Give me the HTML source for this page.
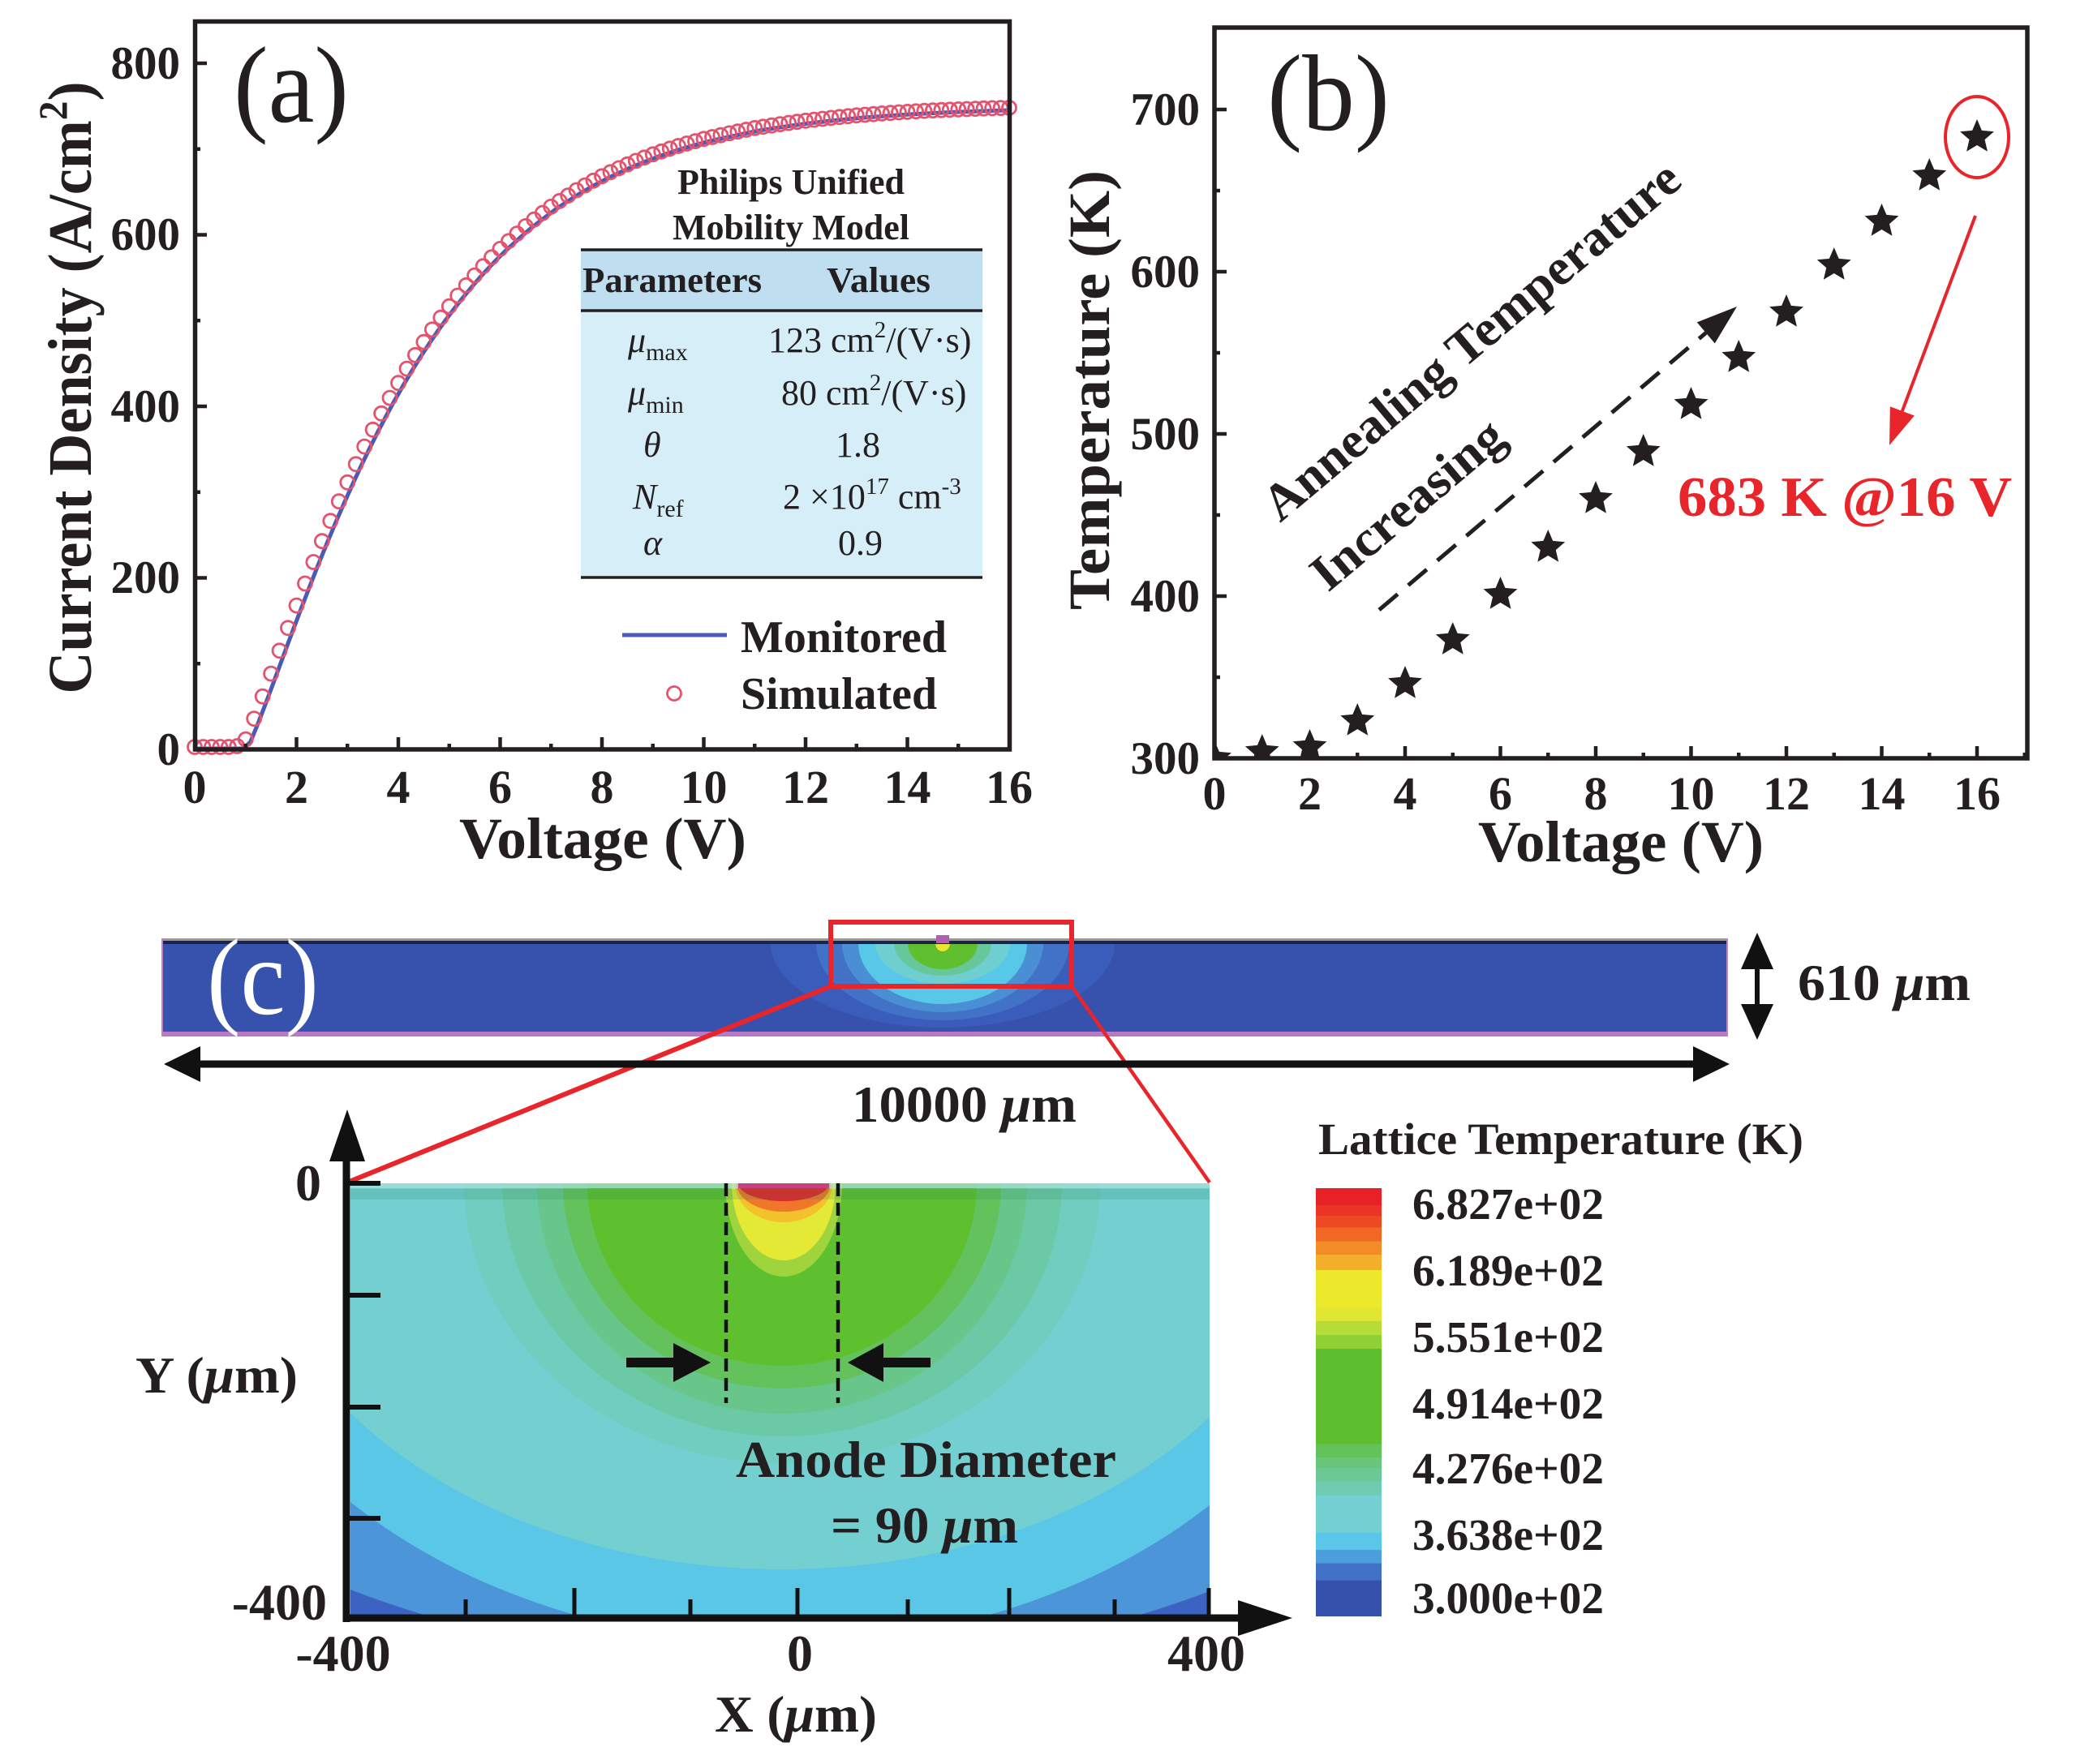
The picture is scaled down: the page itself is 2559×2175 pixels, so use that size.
<!DOCTYPE html>
<html><head><meta charset="utf-8"><style>
html,body{margin:0;padding:0;background:#fff;}
svg{display:block;}
text{font-family:"Liberation Serif","Times New Roman",serif;fill:#231f20;}
.b{font-weight:bold;}
</style></head><body>
<svg width="2559" height="2175" viewBox="0 0 2559 2175" xmlns="http://www.w3.org/2000/svg">
<defs>
<marker id="cm" markerWidth="26" markerHeight="26" refX="13" refY="13" markerUnits="userSpaceOnUse"><circle cx="13" cy="13" r="8.5" fill="none" stroke="#e4536e" stroke-width="2.8"/></marker>
<clipPath id="clipb"><rect x="1497" y="34" width="1002" height="901"/></clipPath>
<clipPath id="clipStrip"><rect x="199" y="1157" width="1931" height="121"/></clipPath>
<clipPath id="clipHeat"><rect x="432" y="1459" width="1059" height="536"/></clipPath>
<linearGradient id="cbar" x1="0" y1="0" x2="0" y2="1">
<stop offset="0" stop-color="#e82128"/><stop offset=".04" stop-color="#e82128"/>
<stop offset=".04" stop-color="#ea3526"/><stop offset=".064" stop-color="#ea3526"/>
<stop offset=".064" stop-color="#ed4a24"/><stop offset=".092" stop-color="#ed4a24"/>
<stop offset=".092" stop-color="#f06824"/><stop offset=".124" stop-color="#f06824"/>
<stop offset=".124" stop-color="#f28c26"/><stop offset=".155" stop-color="#f28c26"/>
<stop offset=".155" stop-color="#f3ae2a"/><stop offset=".191" stop-color="#f3ae2a"/>
<stop offset=".191" stop-color="#ece82c"/><stop offset=".279" stop-color="#ece82c"/>
<stop offset=".279" stop-color="#dfe732"/><stop offset=".311" stop-color="#dfe732"/>
<stop offset=".311" stop-color="#b8dc37"/><stop offset=".343" stop-color="#b8dc37"/>
<stop offset=".343" stop-color="#8fd135"/><stop offset=".375" stop-color="#8fd135"/>
<stop offset=".375" stop-color="#5ebf2e"/><stop offset=".598" stop-color="#5ebf2e"/>
<stop offset=".598" stop-color="#64c25a"/><stop offset=".629" stop-color="#64c25a"/>
<stop offset=".629" stop-color="#69c57a"/><stop offset=".653" stop-color="#69c57a"/>
<stop offset=".653" stop-color="#6cc895"/><stop offset=".685" stop-color="#6cc895"/>
<stop offset=".685" stop-color="#6fcbb2"/><stop offset=".717" stop-color="#6fcbb2"/>
<stop offset=".717" stop-color="#73cfd0"/><stop offset=".805" stop-color="#73cfd0"/>
<stop offset=".805" stop-color="#5ac7e8"/><stop offset=".845" stop-color="#5ac7e8"/>
<stop offset=".845" stop-color="#4d9edc"/><stop offset=".876" stop-color="#4d9edc"/>
<stop offset=".876" stop-color="#4272c8"/><stop offset=".916" stop-color="#4272c8"/>
<stop offset=".916" stop-color="#3551ab"/><stop offset="1" stop-color="#3551ab"/>
</linearGradient>
</defs>

<!-- ================= PANEL (a) ================= -->
<rect x="716" y="308" width="495" height="404" fill="#d6eef8"/>
<rect x="716" y="308" width="495" height="75" fill="#bfdff0"/>
<line x1="716" y1="308" x2="1211" y2="308" stroke="#231f20" stroke-width="3.5"/>
<line x1="716" y1="383" x2="1211" y2="383" stroke="#231f20" stroke-width="3.5"/>
<line x1="716" y1="712" x2="1211" y2="712" stroke="#231f20" stroke-width="3.5"/>
<text class="b" x="975" y="239" font-size="44" text-anchor="middle">Philips Unified</text>
<text class="b" x="975" y="295" font-size="44" text-anchor="middle">Mobility Model</text>
<text class="b" x="718" y="360" font-size="44" textLength="221" lengthAdjust="spacingAndGlyphs">Parameters</text>
<text class="b" x="1019" y="360" font-size="44" textLength="128" lengthAdjust="spacingAndGlyphs">Values</text>
<text x="774" y="434" font-size="44"><tspan font-style="italic">μ</tspan><tspan font-size="30" dy="10">max</tspan></text>
<text x="947" y="434" font-size="44">123 cm<tspan font-size="29" dy="-18">2</tspan><tspan dy="18">/(V·s)</tspan></text>
<text x="774" y="499" font-size="44"><tspan font-style="italic">μ</tspan><tspan font-size="30" dy="10">min</tspan></text>
<text x="963" y="499" font-size="44">80 cm<tspan font-size="29" dy="-18">2</tspan><tspan dy="18">/(V·s)</tspan></text>
<text x="793" y="563" font-size="44" font-style="italic">θ</text>
<text x="1030" y="563" font-size="44">1.8</text>
<text x="780" y="627" font-size="44"><tspan font-style="italic">N</tspan><tspan font-size="30" dy="10">ref</tspan></text>
<text x="965" y="627" font-size="44">2 ×10<tspan font-size="29" dy="-18">17</tspan><tspan dy="18"> cm</tspan><tspan font-size="29" dy="-18">-3</tspan></text>
<text x="793" y="684" font-size="44" font-style="italic">α</text>
<text x="1033" y="684" font-size="44">0.9</text>

<line x1="767" y1="783" x2="896" y2="783" stroke="#4a5ab5" stroke-width="5"/>
<text class="b" x="913" y="804" font-size="56" textLength="254" lengthAdjust="spacingAndGlyphs">Monitored</text>
<circle cx="831" cy="855" r="8.5" fill="none" stroke="#e4536e" stroke-width="2.8"/>
<text class="b" x="913" y="874" font-size="56" textLength="242" lengthAdjust="spacingAndGlyphs">Simulated</text>

<polyline fill="none" stroke="#4a5ab5" stroke-width="5" stroke-linejoin="round" points="240,923 300,923 308.8,914.6 319.2,889.1 329.7,861.7 340.1,833.6 350.6,805.3 361,777.3 371.5,749.6 382,722.5 392.4,696 402.9,670.2 413.3,645.3 423.8,621.2 434.3,597.8 444.7,575.3 455.2,553.6 465.6,532.8 476.1,512.8 486.5,493.6 497,475.2 507.5,457.6 517.9,440.8 528.4,424.7 538.8,409.3 549.3,394.7 559.8,380.7 570.2,367.5 580.7,354.8 591.1,342.6 601.6,331.2 612,320.3 622.5,309.9 633,300.3 643.4,291 653.9,281.9 664.3,273.7 674.8,265.7 685.2,257.9 695.7,250.9 706.2,244.1 716.6,237.5 727.1,231.6 737.5,225.8 748,220.3 758.5,215.3 768.9,210.4 779.4,205.7 789.8,201.4 800.3,197.3 810.8,193.3 821.2,189.8 831.7,186.3 842.1,183 852.6,180 863,177.1 873.5,174.3 884,172 894.4,169.7 904.9,167.4 915.3,165.2 925.8,163 936.3,160.9 946.7,159.3 957.2,157.7 967.6,156.1 978.1,154.6 988.5,153.2 999,151.8 1009.5,150.6 1019.9,149.5 1030.4,148.4 1040.8,147.3 1051.3,146.3 1061.8,145.3 1072.2,144.5 1082.7,143.7 1093.1,142.9 1103.6,142.2 1114,141.5 1124.5,140.9 1135,140.3 1145.4,139.7 1155.9,139.2 1166.3,138.7 1176.8,138.3 1187.3,137.9 1197.7,137.5 1208.2,137.1 1218.6,136.7 1229.1,136.4 1239.5,136.1 1244,136"/>
<polyline fill="none" stroke="none" marker-start="url(#cm)" marker-mid="url(#cm)" marker-end="url(#cm)" points="240,921 250.5,921 260.9,921 271.4,921 281.8,921 292.3,920 302.8,911.6 313.2,886.1 323.7,858.7 334.1,830.6 344.6,802.3 355,774.3 365.5,746.6 376,719.5 386.4,693 396.9,667.2 407.3,642.3 417.8,618.2 428.3,594.8 438.7,572.3 449.2,550.6 459.6,529.8 470.1,509.8 480.5,490.6 491,472.2 501.5,454.6 511.9,437.8 522.4,421.7 532.8,406.3 543.3,391.7 553.8,377.7 564.2,364.5 574.7,351.8 585.1,339.6 595.6,328.2 606,317.3 616.5,306.9 627,297.3 637.4,288 647.9,278.9 658.3,270.7 668.8,262.7 679.2,254.9 689.7,247.9 700.2,241.1 710.6,234.5 721.1,228.6 731.5,222.8 742,217.3 752.5,212.3 762.9,207.4 773.4,202.7 783.8,198.4 794.3,194.3 804.8,190.3 815.2,186.8 825.7,183.3 836.1,180 846.6,177 857,174.1 867.5,171.3 878,169 888.4,166.7 898.9,164.4 909.3,162.2 919.8,160 930.3,157.9 940.7,156.3 951.2,154.7 961.6,153.1 972.1,151.6 982.5,150.2 993,148.8 1003.5,147.6 1013.9,146.5 1024.4,145.4 1034.8,144.3 1045.3,143.3 1055.8,142.3 1066.2,141.5 1076.7,140.7 1087.1,139.9 1097.6,139.2 1108,138.5 1118.5,137.9 1129,137.3 1139.4,136.7 1149.9,136.2 1160.3,135.7 1170.8,135.3 1181.3,134.9 1191.7,134.5 1202.2,134.1 1212.6,133.7 1223.1,133.4 1233.5,133.1 1244,132.9"/>

<rect x="240.5" y="26.5" width="1004" height="897.5" fill="none" stroke="#231f20" stroke-width="5.5"/>
<g stroke="#231f20" stroke-width="4.5">
<line x1="365.5" y1="924" x2="365.5" y2="909"/><line x1="491" y1="924" x2="491" y2="909"/><line x1="616.5" y1="924" x2="616.5" y2="909"/><line x1="742" y1="924" x2="742" y2="909"/><line x1="867.5" y1="924" x2="867.5" y2="909"/><line x1="993" y1="924" x2="993" y2="909"/><line x1="1118.5" y1="924" x2="1118.5" y2="909"/>
<line x1="302.75" y1="924" x2="302.75" y2="917"/><line x1="428.25" y1="924" x2="428.25" y2="917"/><line x1="553.75" y1="924" x2="553.75" y2="917"/><line x1="679.25" y1="924" x2="679.25" y2="917"/><line x1="804.75" y1="924" x2="804.75" y2="917"/><line x1="930.25" y1="924" x2="930.25" y2="917"/><line x1="1055.75" y1="924" x2="1055.75" y2="917"/><line x1="1181.25" y1="924" x2="1181.25" y2="917"/>
<line x1="240" y1="712.5" x2="255" y2="712.5"/><line x1="240" y1="501" x2="255" y2="501"/><line x1="240" y1="289.5" x2="255" y2="289.5"/><line x1="240" y1="78" x2="255" y2="78"/>
<line x1="240" y1="818.25" x2="247" y2="818.25"/><line x1="240" y1="606.75" x2="247" y2="606.75"/><line x1="240" y1="395.25" x2="247" y2="395.25"/><line x1="240" y1="183.75" x2="247" y2="183.75"/>
</g>
<g class="b" font-size="57" text-anchor="end">
<text x="222" y="943">0</text><text x="222" y="731">200</text><text x="222" y="520">400</text><text x="222" y="308">600</text><text x="222" y="97">800</text>
</g>
<g class="b" font-size="58" text-anchor="middle">
<text x="240" y="990">0</text><text x="365.5" y="990">2</text><text x="491" y="990">4</text><text x="616.5" y="990">6</text><text x="742" y="990">8</text><text x="867.5" y="990">10</text><text x="993" y="990">12</text><text x="1118.5" y="990">14</text><text x="1244" y="990">16</text>
</g>
<text class="b" x="743" y="1058" font-size="72" text-anchor="middle" textLength="354" lengthAdjust="spacingAndGlyphs">Voltage (V)</text>
<text class="b" transform="translate(112,478) rotate(-90)" x="0" y="0" font-size="76" text-anchor="middle" textLength="755" lengthAdjust="spacingAndGlyphs">Current Density (A/cm<tspan font-size="50" dy="-30">2</tspan><tspan dy="30">)</tspan></text>
<text x="288" y="150" font-size="134" textLength="142" lengthAdjust="spacingAndGlyphs">(a)</text>

<!-- ================= PANEL (b) ================= -->
<g clip-path="url(#clipb)" fill="#231f20">
<polygon transform="translate(1497,935)" points="0,-22 5.88,-8.09 20.92,-6.8 9.51,3.09 12.93,17.8 0,10 -12.93,17.8 -9.51,3.09 -20.92,-6.8 -5.88,-8.09"/>
<polygon transform="translate(1555.75,927)" points="0,-22 5.88,-8.09 20.92,-6.8 9.51,3.09 12.93,17.8 0,10 -12.93,17.8 -9.51,3.09 -20.92,-6.8 -5.88,-8.09"/>
<polygon transform="translate(1614.5,921)" points="0,-22 5.88,-8.09 20.92,-6.8 9.51,3.09 12.93,17.8 0,10 -12.93,17.8 -9.51,3.09 -20.92,-6.8 -5.88,-8.09"/>
<polygon transform="translate(1673.25,889)" points="0,-22 5.88,-8.09 20.92,-6.8 9.51,3.09 12.93,17.8 0,10 -12.93,17.8 -9.51,3.09 -20.92,-6.8 -5.88,-8.09"/>
<polygon transform="translate(1732,843)" points="0,-22 5.88,-8.09 20.92,-6.8 9.51,3.09 12.93,17.8 0,10 -12.93,17.8 -9.51,3.09 -20.92,-6.8 -5.88,-8.09"/>
<polygon transform="translate(1790.75,789)" points="0,-22 5.88,-8.09 20.92,-6.8 9.51,3.09 12.93,17.8 0,10 -12.93,17.8 -9.51,3.09 -20.92,-6.8 -5.88,-8.09"/>
<polygon transform="translate(1849.5,733)" points="0,-22 5.88,-8.09 20.92,-6.8 9.51,3.09 12.93,17.8 0,10 -12.93,17.8 -9.51,3.09 -20.92,-6.8 -5.88,-8.09"/>
<polygon transform="translate(1908.25,675)" points="0,-22 5.88,-8.09 20.92,-6.8 9.51,3.09 12.93,17.8 0,10 -12.93,17.8 -9.51,3.09 -20.92,-6.8 -5.88,-8.09"/>
<polygon transform="translate(1967,615)" points="0,-22 5.88,-8.09 20.92,-6.8 9.51,3.09 12.93,17.8 0,10 -12.93,17.8 -9.51,3.09 -20.92,-6.8 -5.88,-8.09"/>
<polygon transform="translate(2025.75,557)" points="0,-22 5.88,-8.09 20.92,-6.8 9.51,3.09 12.93,17.8 0,10 -12.93,17.8 -9.51,3.09 -20.92,-6.8 -5.88,-8.09"/>
<polygon transform="translate(2084.5,499)" points="0,-22 5.88,-8.09 20.92,-6.8 9.51,3.09 12.93,17.8 0,10 -12.93,17.8 -9.51,3.09 -20.92,-6.8 -5.88,-8.09"/>
<polygon transform="translate(2143.25,441)" points="0,-22 5.88,-8.09 20.92,-6.8 9.51,3.09 12.93,17.8 0,10 -12.93,17.8 -9.51,3.09 -20.92,-6.8 -5.88,-8.09"/>
<polygon transform="translate(2202,385)" points="0,-22 5.88,-8.09 20.92,-6.8 9.51,3.09 12.93,17.8 0,10 -12.93,17.8 -9.51,3.09 -20.92,-6.8 -5.88,-8.09"/>
<polygon transform="translate(2260.75,327)" points="0,-22 5.88,-8.09 20.92,-6.8 9.51,3.09 12.93,17.8 0,10 -12.93,17.8 -9.51,3.09 -20.92,-6.8 -5.88,-8.09"/>
<polygon transform="translate(2319.5,273)" points="0,-22 5.88,-8.09 20.92,-6.8 9.51,3.09 12.93,17.8 0,10 -12.93,17.8 -9.51,3.09 -20.92,-6.8 -5.88,-8.09"/>
<polygon transform="translate(2378.25,217)" points="0,-22 5.88,-8.09 20.92,-6.8 9.51,3.09 12.93,17.8 0,10 -12.93,17.8 -9.51,3.09 -20.92,-6.8 -5.88,-8.09"/>
<polygon transform="translate(2437,169)" points="0,-22 5.88,-8.09 20.92,-6.8 9.51,3.09 12.93,17.8 0,10 -12.93,17.8 -9.51,3.09 -20.92,-6.8 -5.88,-8.09"/>
</g>
<ellipse cx="2437" cy="169" rx="39" ry="50" fill="none" stroke="#e8252a" stroke-width="4"/>
<line x1="2435" y1="266" x2="2344.8" y2="506.9" stroke="#e8252a" stroke-width="4"/>
<polygon points="2329,549 2359.8,512.5 2329.8,501.3" fill="#e8252a"/>
<text class="b" x="2068" y="636" font-size="70" style="fill:#e8252a" textLength="412" lengthAdjust="spacingAndGlyphs">683 K @16 V</text>
<line x1="1700" y1="752" x2="2102.8" y2="410.4" stroke="#231f20" stroke-width="5" stroke-dasharray="30 17"/>
<polygon points="2141,378 2113.8,423.4 2091.8,397.4" fill="#231f20"/>
<text class="b" transform="translate(1578,645) rotate(-40)" x="0" y="0" font-size="63" textLength="650" lengthAdjust="spacingAndGlyphs">Annealing Temperature</text>
<text class="b" transform="translate(1637,731) rotate(-40)" x="0" y="0" font-size="63" textLength="290" lengthAdjust="spacingAndGlyphs">Increasing</text>

<rect x="1497" y="34" width="1002" height="901" fill="none" stroke="#231f20" stroke-width="5.5"/>
<g stroke="#231f20" stroke-width="4.5">
<line x1="1614.5" y1="935" x2="1614.5" y2="920"/><line x1="1732" y1="935" x2="1732" y2="920"/><line x1="1849.5" y1="935" x2="1849.5" y2="920"/><line x1="1967" y1="935" x2="1967" y2="920"/><line x1="2084.5" y1="935" x2="2084.5" y2="920"/><line x1="2202" y1="935" x2="2202" y2="920"/><line x1="2319.5" y1="935" x2="2319.5" y2="920"/><line x1="2437" y1="935" x2="2437" y2="920"/>
<line x1="1555.75" y1="935" x2="1555.75" y2="928"/><line x1="1673.25" y1="935" x2="1673.25" y2="928"/><line x1="1790.75" y1="935" x2="1790.75" y2="928"/><line x1="1908.25" y1="935" x2="1908.25" y2="928"/><line x1="2025.75" y1="935" x2="2025.75" y2="928"/><line x1="2143.25" y1="935" x2="2143.25" y2="928"/><line x1="2260.75" y1="935" x2="2260.75" y2="928"/><line x1="2378.25" y1="935" x2="2378.25" y2="928"/><line x1="2495.75" y1="935" x2="2495.75" y2="928"/>
<line x1="1497" y1="735" x2="1512" y2="735"/><line x1="1497" y1="535" x2="1512" y2="535"/><line x1="1497" y1="335" x2="1512" y2="335"/><line x1="1497" y1="135" x2="1512" y2="135"/>
<line x1="1497" y1="835" x2="1504" y2="835"/><line x1="1497" y1="635" x2="1504" y2="635"/><line x1="1497" y1="435" x2="1504" y2="435"/><line x1="1497" y1="235" x2="1504" y2="235"/>
</g>
<g class="b" font-size="57" text-anchor="end">
<text x="1479" y="954">300</text><text x="1479" y="754">400</text><text x="1479" y="554">500</text><text x="1479" y="354">600</text><text x="1479" y="154">700</text>
</g>
<g class="b" font-size="58" text-anchor="middle">
<text x="1497" y="998">0</text><text x="1614.5" y="998">2</text><text x="1732" y="998">4</text><text x="1849.5" y="998">6</text><text x="1967" y="998">8</text><text x="2084.5" y="998">10</text><text x="2202" y="998">12</text><text x="2319.5" y="998">14</text><text x="2437" y="998">16</text>
</g>
<text class="b" x="1998" y="1062" font-size="72" text-anchor="middle" textLength="352" lengthAdjust="spacingAndGlyphs">Voltage (V)</text>
<text class="b" transform="translate(1367,481) rotate(-90)" x="0" y="0" font-size="72" text-anchor="middle" textLength="542" lengthAdjust="spacingAndGlyphs">Temperature (K)</text>
<text x="1562" y="160" font-size="134" textLength="151" lengthAdjust="spacingAndGlyphs">(b)</text>

<!-- ================= PANEL (c) ================= -->
<rect x="199" y="1157" width="1931" height="121" fill="#3652ad"/>
<g clip-path="url(#clipStrip)">
<ellipse cx="1162" cy="1163" rx="212" ry="104" fill="#3a5cba"/>
<ellipse cx="1162" cy="1163" rx="156" ry="95" fill="#4272c8"/>
<ellipse cx="1162" cy="1163" rx="124" ry="85" fill="#4a8fd4"/>
<ellipse cx="1162" cy="1163" rx="104" ry="75" fill="#57c8e8"/>
<ellipse cx="1162" cy="1163" rx="83" ry="50" fill="#6fcfd0"/>
<ellipse cx="1162" cy="1163" rx="60" ry="40" fill="#68c79a"/>
<ellipse cx="1162" cy="1163" rx="43" ry="32" fill="#5fbf2e"/>
<ellipse cx="1162" cy="1163" rx="9" ry="10" fill="#e8e830"/>
</g>
<rect x="199" y="1157" width="1931" height="3" fill="#9a9a8a"/>
<rect x="199" y="1160" width="1931" height="4" fill="#1c2248"/>
<rect x="199" y="1272" width="1931" height="6" fill="#b878c8"/>
<rect x="199" y="1157" width="2" height="121" fill="#c080d0"/>
<rect x="2128" y="1157" width="2" height="121" fill="#c080d0"/>
<rect x="1154" y="1153" width="16" height="10" fill="#b060b0"/>
<text x="255" y="1250" font-size="134" style="fill:#ffffff" textLength="138" lengthAdjust="spacingAndGlyphs">(c)</text>

<rect x="1024" y="1137" width="297" height="79" fill="none" stroke="#e8252a" stroke-width="6"/>
<line x1="1024" y1="1216" x2="428" y2="1458" stroke="#e8252a" stroke-width="6"/>
<line x1="1321" y1="1216" x2="1491" y2="1458" stroke="#e8252a" stroke-width="4.5"/>

<line x1="2166" y1="1190" x2="2166" y2="1242" stroke="#111" stroke-width="6"/>
<polygon points="2166,1150 2186,1195 2146,1195" fill="#111"/>
<polygon points="2166,1282 2186,1238 2146,1238" fill="#111"/>
<text class="b" x="2216" y="1233" font-size="64" textLength="213" lengthAdjust="spacingAndGlyphs">610 <tspan font-style="italic">μ</tspan>m</text>

<line x1="245" y1="1312" x2="2089" y2="1312" stroke="#111" stroke-width="9"/>
<polygon points="202,1312 247,1290 247,1334" fill="#111"/>
<polygon points="2132,1312 2087,1290 2087,1334" fill="#111"/>
<text class="b" x="1050" y="1383" font-size="64" textLength="277" lengthAdjust="spacingAndGlyphs">10000 <tspan font-style="italic">μ</tspan>m</text>

<!-- heatmap -->
<rect x="432" y="1459" width="1059" height="536" fill="#3d63c2"/>
<g clip-path="url(#clipHeat)">
<ellipse cx="964" cy="1459" rx="986" ry="595" fill="#4b95d8"/>
<ellipse cx="964" cy="1459" rx="738" ry="567" fill="#5bc7e7"/>
<ellipse cx="964" cy="1459" rx="662" ry="476" fill="#73cfd0"/>
<ellipse cx="964" cy="1459" rx="392" ry="345" fill="#70cdc0"/>
<ellipse cx="964" cy="1459" rx="345" ry="312" fill="#6cc9a6"/>
<ellipse cx="964" cy="1459" rx="302" ry="284" fill="#68c68a"/>
<ellipse cx="964" cy="1459" rx="270" ry="253" fill="#63c25c"/>
<ellipse cx="964" cy="1459" rx="240" ry="225" fill="#5ebf2f"/>
<ellipse cx="966" cy="1459" rx="72" ry="115" fill="#9fd43c"/>
<ellipse cx="966" cy="1459" rx="64" ry="95" fill="#e3e934"/>
<ellipse cx="966" cy="1459" rx="60" ry="48" fill="#f2c12b"/>
<ellipse cx="966" cy="1459" rx="58" ry="35" fill="#f0772a"/>
<ellipse cx="966" cy="1459" rx="56" ry="22" fill="#e6282c"/>
<rect x="432" y="1459" width="1059" height="6" fill="#a6e2e0" opacity="0.7"/>
<rect x="432" y="1466" width="1059" height="13" fill="#1f7a5a" opacity="0.16"/>
<rect x="910" y="1459" width="112" height="6" fill="#c8407e"/>
</g>

<line x1="895" y1="1459" x2="895" y2="1730" stroke="#111" stroke-width="4.5" stroke-dasharray="16 8"/>
<line x1="1033" y1="1459" x2="1033" y2="1730" stroke="#111" stroke-width="4.5" stroke-dasharray="16 8"/>
<rect x="772" y="1674" width="60" height="12" fill="#111"/>
<polygon points="830,1656 876,1680 830,1704" fill="#111"/>
<rect x="1087" y="1674" width="60" height="12" fill="#111"/>
<polygon points="1045,1680 1089,1656 1089,1704" fill="#111"/>
<text class="b" x="907" y="1821" font-size="64" textLength="469" lengthAdjust="spacingAndGlyphs">Anode Diameter</text>
<text class="b" x="1024" y="1902" font-size="64" textLength="231" lengthAdjust="spacingAndGlyphs">= 90 <tspan font-style="italic">μ</tspan>m</text>

<line x1="427" y1="1428" x2="427" y2="2000" stroke="#111" stroke-width="9"/>
<polygon points="428,1368 450,1432 406,1432" fill="#111"/>
<line x1="423" y1="1995" x2="1530" y2="1995" stroke="#111" stroke-width="9"/>
<polygon points="1593,1995 1526,1973 1526,2017" fill="#111"/>
<g stroke="#111" stroke-width="6">
<line x1="427" y1="1459" x2="469" y2="1459"/><line x1="427" y1="1597" x2="469" y2="1597"/><line x1="427" y1="1735" x2="469" y2="1735"/><line x1="427" y1="1872" x2="469" y2="1872"/>
</g>
<g stroke="#111" stroke-width="5">
<line x1="708" y1="1995" x2="708" y2="1958"/><line x1="983" y1="1995" x2="983" y2="1958"/><line x1="1244" y1="1995" x2="1244" y2="1958"/><line x1="1490" y1="1995" x2="1490" y2="1958"/>
<line x1="574" y1="1995" x2="574" y2="1972"/><line x1="851" y1="1995" x2="851" y2="1972"/><line x1="1119" y1="1995" x2="1119" y2="1972"/><line x1="1374" y1="1995" x2="1374" y2="1972"/>
</g>
<g class="b" font-size="64">
<text x="396" y="1480" text-anchor="end">0</text>
<text x="403" y="1997" text-anchor="end">-400</text>
<text x="423" y="2060" text-anchor="middle">-400</text>
<text x="986" y="2060" text-anchor="middle">0</text>
<text x="1487" y="2060" text-anchor="middle">400</text>
</g>
<text class="b" x="981" y="2135" font-size="64" text-anchor="middle" textLength="200" lengthAdjust="spacingAndGlyphs">X (<tspan font-style="italic">μ</tspan>m)</text>
<text class="b" x="167" y="1717" font-size="64" textLength="200" lengthAdjust="spacingAndGlyphs">Y (<tspan font-style="italic">μ</tspan>m)</text>

<rect x="1622" y="1465" width="81" height="528" fill="url(#cbar)"/>
<text class="b" x="1625" y="1423" font-size="55" textLength="598" lengthAdjust="spacingAndGlyphs">Lattice Temperature (K)</text>
<g class="b" font-size="55">
<text x="1741" y="1503" textLength="236" lengthAdjust="spacingAndGlyphs">6.827e+02</text>
<text x="1741" y="1585" textLength="236" lengthAdjust="spacingAndGlyphs">6.189e+02</text>
<text x="1741" y="1667" textLength="236" lengthAdjust="spacingAndGlyphs">5.551e+02</text>
<text x="1741" y="1749" textLength="236" lengthAdjust="spacingAndGlyphs">4.914e+02</text>
<text x="1741" y="1829" textLength="236" lengthAdjust="spacingAndGlyphs">4.276e+02</text>
<text x="1741" y="1911" textLength="236" lengthAdjust="spacingAndGlyphs">3.638e+02</text>
<text x="1741" y="1989" textLength="236" lengthAdjust="spacingAndGlyphs">3.000e+02</text>
</g>
</svg>
</body></html>
